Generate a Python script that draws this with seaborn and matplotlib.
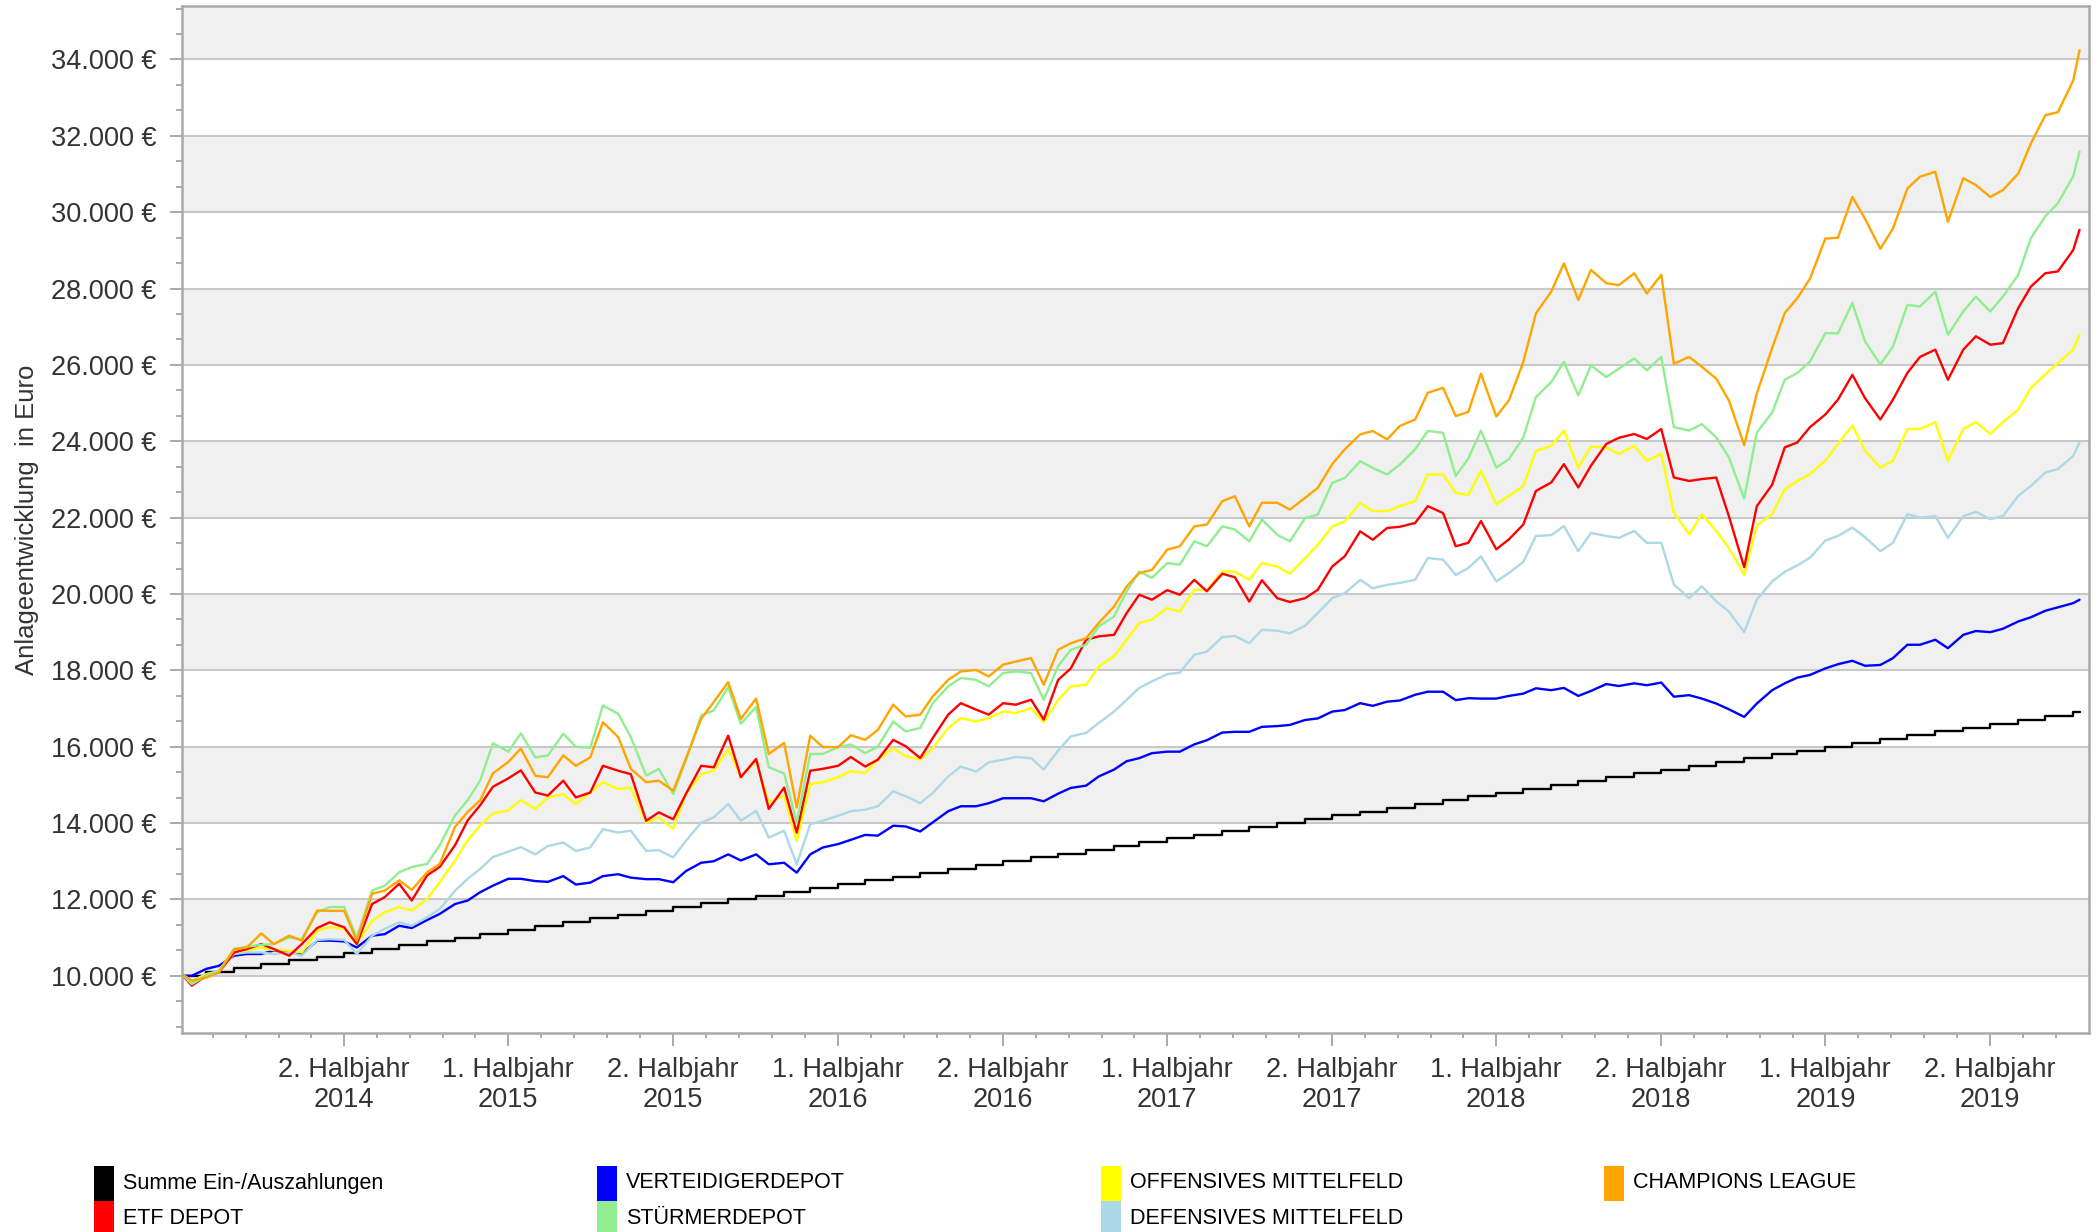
import numpy as np
import pandas as pd
import matplotlib
matplotlib.use("Agg")
import matplotlib.pyplot as plt
import matplotlib.dates as mdates
from matplotlib.patches import Rectangle
from matplotlib.ticker import FixedLocator
import seaborn as sns

# ============================================================================
# DATA  (depot values in Euro, read off semi-monthly: 1st and 15th)
# ============================================================================

FIRST_DAY = "2014-04-07"
LAST_DAY = "2020-01-08"
DATES = ([pd.Timestamp(FIRST_DAY)]
         + list(pd.date_range("2014-04-15", "2020-01-01", freq="SMS"))
         + [pd.Timestamp(LAST_DAY)])

CHAMPIONS = [
    10000, 9870, 9950, 10090, 10700, 10740, 11110, 10830, 11050, 10920, 11710, 11700,
    11700, 10920, 12150, 12230, 12500, 12250, 12710, 12930, 13900, 14290, 14600, 15300,
    15600, 15950, 15240, 15200, 15770, 15500, 15720, 16640, 16250, 15420, 15070, 15110,
    14850, 15680, 16730, 17170, 17690, 16730, 17260, 15810, 16100, 14410, 16290, 15990,
    15990, 16300, 16180, 16440, 17100, 16790, 16840, 17320, 17750, 17970, 18010, 17840,
    18150, 18230, 18320, 17620, 18540, 18710, 18840, 19240, 19670, 20200, 20550, 20630,
    21160, 21250, 21770, 21820, 22430, 22560, 21770, 22390, 22390, 22210, 22520, 22780,
    23400, 23790, 24180, 24270, 24050, 24400, 24570, 25270, 25400, 24660, 24770, 25770,
    24650, 25070, 26080, 27350, 27920, 28660, 27700, 28490, 28140, 28090, 28400, 27870,
    28360, 26030, 26210, 25950, 25640, 25070, 23900, 25250, 26440, 27360, 27750, 28260,
    29310, 29330, 30400, 29830, 29040, 29570, 30620, 30930, 31060, 29750, 30890, 30710,
    30400, 30580, 31010, 31800, 32540, 32620, 33450, 34240,
]
STUERMER = [
    9975, 9780, 10000, 10130, 10700, 10760, 10810, 10830, 11000, 10960, 11660, 11800,
    11800, 11000, 12230, 12360, 12710, 12850, 12930, 13420, 14200, 14600, 15120, 16090,
    15870, 16350, 15720, 15770, 16340, 16000, 15970, 17080, 16860, 16250, 15240, 15420,
    14760, 15640, 16820, 16950, 17560, 16600, 17040, 15460, 15300, 14010, 15810, 15810,
    15990, 16060, 15830, 16000, 16660, 16400, 16490, 17140, 17580, 17800, 17750, 17580,
    17930, 17970, 17930, 17230, 18110, 18540, 18670, 19150, 19410, 20070, 20590, 20420,
    20810, 20770, 21380, 21250, 21770, 21690, 21380, 21950, 21550, 21380, 21990, 22080,
    22910, 23040, 23480, 23300, 23130, 23390, 23790, 24270, 24220, 23090, 23550, 24280,
    23310, 23530, 24100, 25160, 25550, 26080, 25200, 25990, 25680, 25900, 26170, 25860,
    26210, 24370, 24280, 24450, 24100, 23580, 22500, 24230, 24750, 25610, 25790, 26090,
    26830, 26830, 27620, 26620, 26010, 26480, 27570, 27530, 27920, 26790, 27400, 27790,
    27400, 27790, 28360, 29320, 29890, 30240, 30940, 31590,
]
ETF = [
    9960, 9740, 10000, 10090, 10610, 10700, 10830, 10700, 10525, 10830, 11250, 11400,
    11270, 10830, 11880, 12060, 12410, 11970, 12630, 12850, 13420, 14070, 14470, 14950,
    15170, 15380, 14800, 14720, 15110, 14670, 14800, 15500, 15370, 15280, 14060, 14280,
    14100, 14760, 15500, 15460, 16290, 15200, 15680, 14370, 14930, 13750, 15370, 15420,
    15500, 15730, 15480, 15660, 16180, 16010, 15700, 16230, 16840, 17140, 16970, 16840,
    17140, 17100, 17230, 16710, 17750, 18050, 18800, 18890, 18930, 19500, 19980, 19850,
    20100, 19980, 20370, 20070, 20530, 20440, 19800, 20360, 19890, 19790, 19890, 20110,
    20720, 20990, 21640, 21420, 21730, 21760, 21860, 22300, 22120, 21250, 21340, 21910,
    21170, 21430, 21820, 22700, 22920, 23400, 22790, 23360, 23930, 24090, 24190, 24060,
    24320, 23050, 22960, 23010, 23050, 22040, 20700, 22300, 22860, 23840, 23970, 24370,
    24700, 25090, 25740, 25130, 24570, 25090, 25790, 26210, 26400, 25610, 26400, 26750,
    26530, 26570, 27490, 28050, 28400, 28450, 29010, 29540,
]
OFFENSIV = [
    9975, 9820, 10040, 10090, 10610, 10670, 10740, 10670, 10660, 10610, 11180, 11270,
    11230, 10830, 11440, 11660, 11800, 11710, 12010, 12450, 13020, 13550, 13940, 14250,
    14330, 14600, 14370, 14670, 14760, 14500, 14800, 15070, 14890, 14930, 14010, 14150,
    13850, 14760, 15280, 15370, 15940, 15200, 15640, 14540, 14720, 13530, 15020, 15070,
    15200, 15360, 15310, 15660, 15960, 15750, 15660, 15960, 16490, 16750, 16660, 16750,
    16920, 16880, 17010, 16640, 17230, 17580, 17620, 18100, 18370, 18800, 19240, 19330,
    19630, 19540, 20110, 20110, 20590, 20590, 20370, 20810, 20720, 20530, 20940, 21290,
    21770, 21900, 22390, 22170, 22170, 22300, 22430, 23130, 23130, 22650, 22590, 23230,
    22350, 22570, 22830, 23750, 23880, 24280, 23310, 23860, 23840, 23670, 23880, 23490,
    23670, 22130, 21560, 22090, 21650, 21210, 20500, 21800, 22090, 22740, 22960, 23140,
    23490, 23930, 24410, 23760, 23310, 23490, 24320, 24320, 24500, 23490, 24320, 24500,
    24190, 24500, 24830, 25400, 25750, 26050, 26400, 26790,
]
DEFENSIV = [
    9975, 9870, 10040, 10130, 10570, 10610, 10610, 10570, 10610, 10525, 10940, 10960,
    10940, 10570, 11050, 11230, 11400, 11310, 11530, 11750, 12230, 12540, 12800, 13110,
    13250, 13370, 13180, 13400, 13490, 13270, 13360, 13840, 13750, 13800, 13270, 13290,
    13100, 13530, 14010, 14150, 14500, 14060, 14320, 13620, 13800, 12920, 13970, 14060,
    14190, 14310, 14350, 14440, 14830, 14700, 14520, 14790, 15220, 15480, 15350, 15590,
    15660, 15730, 15700, 15400, 15900, 16270, 16360, 16620, 16920, 17230, 17540, 17710,
    17900, 17940, 18410, 18490, 18870, 18900, 18710, 19060, 19040, 18970, 19170, 19500,
    19890, 20020, 20370, 20150, 20240, 20290, 20370, 20940, 20900, 20500, 20680, 20990,
    20330, 20550, 20840, 21520, 21540, 21780, 21120, 21600, 21520, 21470, 21650, 21340,
    21340, 20250, 19890, 20200, 19810, 19540, 19000, 19850, 20330, 20580, 20750, 20950,
    21400, 21520, 21740, 21490, 21120, 21340, 22090, 22000, 22040, 21470, 22040, 22150,
    21960, 22040, 22570, 22830, 23180, 23270, 23620, 23970,
]
VERTEIDIGER = [
    10000, 10000, 10180, 10260, 10525, 10570, 10570, 10660, 10610, 10570, 10920, 10920,
    10900, 10740, 11050, 11090, 11310, 11250, 11460, 11620, 11880, 11970, 12190, 12360,
    12540, 12540, 12480, 12460, 12610, 12390, 12440, 12610, 12660, 12570, 12530, 12530,
    12450, 12740, 12960, 13000, 13180, 13020, 13180, 12920, 12960, 12700, 13180, 13360,
    13450, 13560, 13690, 13670, 13930, 13910, 13780, 14020, 14310, 14440, 14440, 14520,
    14650, 14650, 14650, 14570, 14770, 14920, 14980, 15220, 15400, 15620, 15700, 15830,
    15870, 15870, 16060, 16170, 16370, 16390, 16390, 16520, 16540, 16570, 16700, 16740,
    16920, 16960, 17140, 17070, 17180, 17210, 17360, 17440, 17440, 17220, 17270, 17260,
    17260, 17330, 17390, 17530, 17480, 17540, 17330, 17460, 17640, 17590, 17660, 17610,
    17680, 17310, 17350, 17260, 17130, 16980, 16780, 17130, 17480, 17660, 17810, 17880,
    18050, 18160, 18250, 18120, 18140, 18320, 18670, 18670, 18800, 18580, 18930, 19030,
    19000, 19090, 19280, 19390, 19560, 19650, 19760, 19850,
]

# cumulated payments, one value per month (Apr 2014 .. Jan 2020)
DEPOSIT_MONTHS = [pd.Timestamp(FIRST_DAY)] + list(pd.date_range("2014-05-01", "2020-01-01", freq="MS"))
DEPOSITS = [
    10000, 10100, 10200, 10300, 10400, 10500, 10600, 10700, 10800, 10900,
    11000, 11100, 11200, 11300, 11400, 11500, 11600, 11700, 11800, 11900,
    12000, 12100, 12200, 12300, 12400, 12500, 12600, 12700, 12800, 12900,
    13000, 13100, 13200, 13300, 13400, 13500, 13600, 13700, 13800, 13900,
    14000, 14100, 14200, 14300, 14400, 14500, 14600, 14700, 14800, 14900,
    15000, 15100, 15200, 15300, 15400, 15500, 15600, 15700, 15800, 15900,
    16000, 16100, 16200, 16300, 16400, 16500, 16600, 16700, 16800, 16900,
]

LABELS = {
    "summe": "Summe Ein-/Auszahlungen",
    "etf": "ETF DEPOT",
    "vert": "VERTEIDIGERDEPOT",
    "stuerm": "STÜRMERDEPOT",
    "off": "OFFENSIVES MITTELFELD",
    "def": "DEFENSIVES MITTELFELD",
    "champ": "CHAMPIONS LEAGUE",
}
COLORS = {
    "summe": "#000000",
    "etf": "#ff0000",
    "vert": "#0000ff",
    "stuerm": "#90ee90",
    "off": "#ffff00",
    "def": "#add8e6",
    "champ": "#ffa500",
}

# ============================================================================
# STYLE
# ============================================================================

sns.set_style("white")
plt.rcParams["font.family"] = ["Liberation Sans", "DejaVu Sans"]

TEXT_COLOR = "#333333"
AXIS_COLOR = "#aaaaaa"
LINE_W = 1.7
TICK_FONT = 19.5

fig = plt.figure(figsize=(20.98, 12.32), dpi=100)
ax = fig.add_axes([0.0867, 0.1615, 0.9088, 0.8336])

# alternating bands between the gridlines
for lo in range(10000, 36000, 4000):
    ax.axhspan(lo, lo + 2000, color="#f0f0f0", lw=0, zorder=0)

# deposits as staircase
sns.lineplot(x=DEPOSIT_MONTHS + [pd.Timestamp(LAST_DAY)], y=DEPOSITS + [DEPOSITS[-1]],
             color=COLORS["summe"], lw=LINE_W, drawstyle="steps-post", ax=ax, zorder=3)

series = [
    ("vert", VERTEIDIGER),
    ("def", DEFENSIV),
    ("off", OFFENSIV),
    ("etf", ETF),
    ("stuerm", STUERMER),
    ("champ", CHAMPIONS),
]
for key, values in series:
    sns.lineplot(x=DATES, y=values, color=COLORS[key], lw=LINE_W, ax=ax, zorder=3)

# ---------------------------------------------------------------------------
# axes
# ---------------------------------------------------------------------------
ax.set_xlim(pd.Timestamp("2014-04-04"), pd.Timestamp("2020-01-18"))
ax.set_ylim(8500, 35400)

yticks = list(range(10000, 34001, 2000))
ax.set_yticks(yticks)
ax.set_yticklabels([f"{v:,.0f}".replace(",", ".") + " €" for v in yticks])
step = 2000 / 3
yminor = [v for v in np.arange(10000 - 2 * step, 35400, step)
          if min(abs(v - t) for t in yticks) > 1]
ax.yaxis.set_minor_locator(FixedLocator(yminor))

major_dates = []
major_labels = []
for year in range(2014, 2020):
    for month, half in ((4, "1."), (10, "2.")):
        d = pd.Timestamp(year=year, month=month, day=1)
        if pd.Timestamp("2014-10-01") <= d <= pd.Timestamp("2019-10-01"):
            major_dates.append(d)
            major_labels.append(f"{half} Halbjahr\n{year}")
major_num = mdates.date2num(major_dates)
ax.set_xticks(major_num)
ax.set_xticklabels(major_labels, linespacing=1.2)

xlo, xhi = ax.get_xlim()
gap = (major_num[1] - major_num[0]) / 5
xminor = []
for a, b in zip(major_num[:-1], major_num[1:]):
    xminor += list(np.linspace(a, b, 6)[1:-1])
xminor += [major_num[0] - k * gap for k in range(1, 5) if major_num[0] - k * gap > xlo + 2]
xminor += [major_num[-1] + k * gap for k in range(1, 5) if major_num[-1] + k * gap < xhi - 2]
ax.xaxis.set_minor_locator(FixedLocator(sorted(xminor)))

ax.yaxis.grid(True, which="major", color="#c8c8c8", lw=1.5)
ax.xaxis.grid(False)
ax.set_axisbelow(True)

for spine in ax.spines.values():
    spine.set_visible(True)
    spine.set_color(AXIS_COLOR)
    spine.set_linewidth(1.8)

ax.tick_params(axis="y", which="major", length=8.6, width=1.4, color=AXIS_COLOR,
               labelsize=TICK_FONT, labelcolor=TEXT_COLOR, pad=10, left=True)
ax.tick_params(axis="y", which="minor", length=4.3, width=1.4, color=AXIS_COLOR, left=True)
ax.tick_params(axis="x", which="major", length=9.5, width=1.4, color=AXIS_COLOR,
               labelsize=TICK_FONT, labelcolor=TEXT_COLOR, pad=8, bottom=True)
ax.tick_params(axis="x", which="minor", length=3.6, width=1.4, color=AXIS_COLOR, bottom=True)

ax.set_xlabel("")
ax.set_ylabel("Anlageentwicklung  in Euro", fontsize=18.5, color=TEXT_COLOR)
ax.yaxis.set_label_coords(-0.0752, 0.5)

# ---------------------------------------------------------------------------
# legend: colour blocks below the chart, four columns
# ---------------------------------------------------------------------------
W_PX, H_PX = 2098, 1232
legend_slots = [
    ("summe", 0, 0), ("etf", 0, 1),
    ("vert", 1, 0), ("stuerm", 1, 1),
    ("off", 2, 0), ("def", 2, 1),
    ("champ", 3, 0),
]
col_x = [94, 597, 1101, 1604]
row_top = [1166, 1201]
for key, col, row in legend_slots:
    x0 = col_x[col]
    y0 = row_top[row]
    fig.add_artist(Rectangle((x0 / W_PX, 1 - (y0 + 35) / H_PX), 20 / W_PX, 35 / H_PX,
                             transform=fig.transFigure, facecolor=COLORS[key],
                             edgecolor="none"))
    fig.text((x0 + 29) / W_PX, 1 - (y0 + 17) / H_PX, LABELS[key],
             fontsize=15.5, color="#000000", va="center", ha="left")

fig.savefig("out.png", dpi=100)
print("[SAVED] out.png")
